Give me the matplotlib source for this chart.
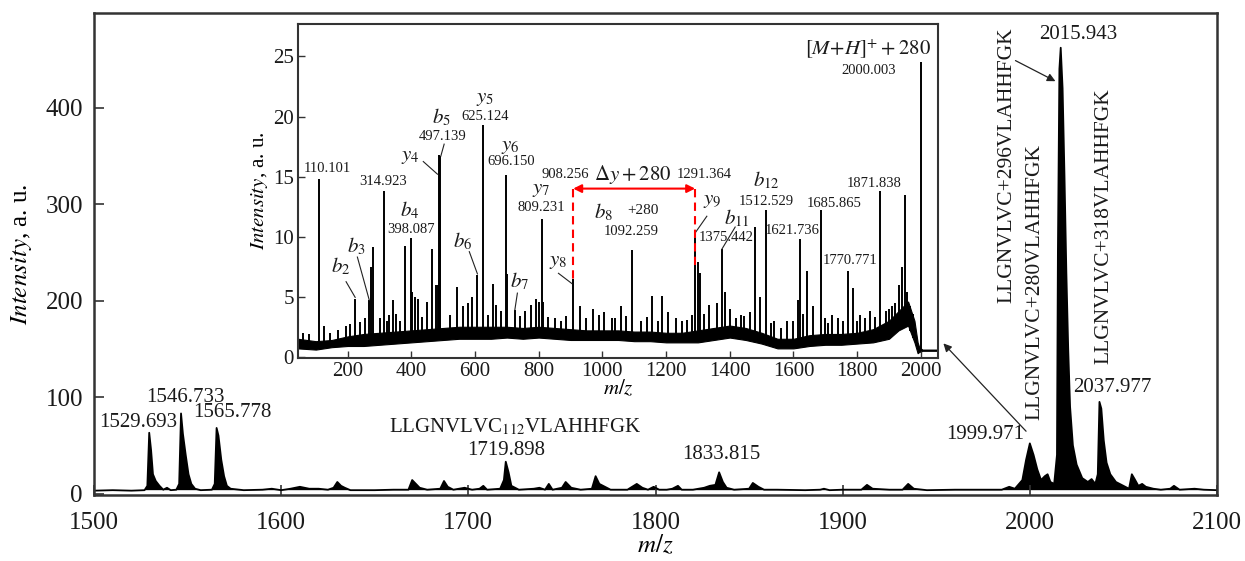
import matplotlib
matplotlib.use('Agg')
import matplotlib.pyplot as plt
import numpy as np

plt.rcParams['font.family'] = ['Liberation Serif', 'DejaVu Serif']
plt.rcParams['mathtext.fontset'] = 'stix'
plt.rcParams['text.color'] = '#1a1a1a'

# main MS spectrum (m/z, intensity)
main_mz = [1500, 1510, 1520, 1527, 1528.5, 1529.5, 1530.5, 1531.5, 1533, 1535,
           1537, 1539, 1541, 1544, 1545.5, 1546.5, 1547.5, 1549, 1550.5, 1552,
           1554, 1557, 1563, 1564.5, 1565.5, 1566.5, 1568, 1569.5, 1571, 1573,
           1580, 1590, 1595, 1600, 1605, 1610, 1615, 1620, 1625, 1628,
           1630, 1632, 1634, 1637, 1650, 1660, 1668, 1670, 1672, 1674,
           1678, 1685, 1687, 1689, 1692, 1698, 1702, 1706, 1708, 1710,
           1717, 1719, 1720, 1721.5, 1723, 1727, 1735, 1738, 1741, 1743,
           1745, 1750, 1752, 1755, 1760, 1766, 1768, 1770, 1773, 1776,
           1785, 1790, 1793, 1796, 1799, 1802, 1806, 1809, 1812, 1814,
           1820, 1826, 1829, 1832, 1834, 1836, 1838, 1842, 1850, 1852,
           1855, 1858, 1865, 1880, 1888, 1890, 1893, 1900, 1910, 1913,
           1916, 1925, 1932, 1935, 1938, 1945, 1960, 1975, 1985, 1989,
           1992, 1996, 1998, 2000, 2002, 2004, 2006, 2008, 2009.5, 2011,
           2013, 2014.5, 2015, 2015.8, 2016.5, 2017.5, 2018.5, 2019.5, 2020.5, 2021.5,
           2023, 2025, 2028, 2031, 2033, 2035, 2036.3, 2037.2, 2038.2, 2039.5,
           2041, 2043, 2046, 2050, 2053, 2054.5, 2056, 2058, 2060, 2062,
           2066, 2070, 2075, 2077, 2080, 2088, 2093, 2100]
main_int = [3, 3.5, 3, 3.5, 8, 63, 45, 20, 13, 8,
            4, 6, 3.5, 4, 10, 83, 62, 40, 20, 10,
            5, 3.5, 4, 10, 68, 60, 35, 18, 8, 5,
            3.5, 4, 5, 3.5, 5, 7, 5, 5, 4, 6,
            12, 8, 6, 3.5, 3.5, 4, 4, 14, 10, 6,
            4, 5, 13, 7, 4, 6, 4, 5, 8, 4,
            5, 14, 33, 22, 8, 4, 5, 6, 4, 10,
            4, 6, 12, 6, 4, 5, 18, 10, 7, 4,
            4, 10, 6, 4, 7, 4, 4, 5, 8, 4,
            4, 6, 8, 9, 22, 12, 6, 4, 5, 11,
            7, 4, 4, 3.5, 4, 5, 3.5, 4, 4, 9,
            5, 4, 4, 10, 5, 3.5, 4, 4, 4, 7,
            5, 14, 35, 52, 40, 25, 14, 18, 20, 12,
            10, 40, 250, 440, 462, 420, 330, 230, 150, 90,
            50, 30, 16, 12, 15, 10, 20, 95, 88, 55,
            32, 20, 12, 8, 5, 20, 15, 8, 10, 7,
            5, 4, 5, 8, 4, 5, 4, 3.5]

# inset MS/MS spectrum: baseline noise envelope
band_mz = [44, 100, 150, 200, 250, 300, 350, 400, 450, 500,
           550, 600, 650, 700, 750, 800, 850, 900, 950, 1000,
           1050, 1100, 1150, 1200, 1250, 1300, 1350, 1400, 1450, 1500,
           1550, 1600, 1650, 1700, 1750, 1800, 1850, 1900, 1930, 1960,
           1980, 1990, 1995, 2005, 2010, 2054]
band_lo = [0.7, 0.6, 0.8, 0.9, 0.9, 1.0, 1.1, 1.2, 1.3, 1.4,
           1.5, 1.5, 1.5, 1.6, 1.5, 1.6, 1.5, 1.4, 1.4, 1.4,
           1.4, 1.3, 1.3, 1.2, 1.2, 1.2, 1.4, 1.6, 1.4, 1.1,
           0.7, 0.7, 0.9, 1.0, 1.0, 1.1, 1.2, 1.5, 2.2, 2.6,
           1.2, 0.3, 0.4, 0.5, 0.5, 0.5]
band_hi = [1.5, 1.3, 1.4, 1.7, 1.9, 2.0, 2.1, 2.2, 2.3, 2.4,
           2.5, 2.5, 2.5, 2.5, 2.4, 2.5, 2.4, 2.3, 2.2, 2.2,
           2.2, 2.1, 2.1, 2.0, 2.0, 2.2, 2.4, 2.6, 2.4, 2.0,
           1.5, 1.5, 1.8, 1.9, 1.9, 2.0, 2.3, 3.0, 3.8, 4.6,
           3.0, 1.2, 0.8, 0.6, 0.6, 0.6]

# inset fragment peaks and noise spikes
frag_mz = [110.101, 127, 145, 195, 207, 222, 238, 254, 267, 272,
           280.5, 314.923, 322, 343, 353, 380, 398.087, 403, 413, 421,
           449, 466, 476, 484, 486, 489, 491, 543, 562, 577,
           590, 606, 625.124, 657, 666, 696.150, 700, 725, 756, 777,
           793, 800, 809.231, 814, 850, 870, 908.256, 931, 970, 1006,
           1030, 1058, 1092.259, 1120, 1157, 1187, 1207, 1250, 1280, 1291.364,
           1300, 1307, 1334, 1360, 1375.442, 1386, 1420, 1445, 1464, 1480,
           1495, 1512.529, 1540, 1580, 1614, 1621.736, 1643, 1662, 1685.865, 1700,
           1720, 1740, 1770.771, 1788, 1810, 1840, 1871.838, 1900, 1920, 1933,
           1941, 1949, 1958, 1966, 1975, 2000.003,
           60, 80, 170, 300, 330, 365, 435, 520, 640, 680,
           740, 830, 885, 950, 990, 1040, 1075, 1140, 1175, 1230,
           1265, 1320, 1400, 1435, 1530, 1560, 1600, 1630, 1710, 1755,
           1800, 1825, 1855, 1890, 1910]
frag_int = [14.8, 2.6, 2.0, 2.6, 2.7, 4.8, 2.9, 3.2, 4.7, 7.5,
            9.1, 13.8, 3.0, 4.7, 3.6, 9.2, 9.9, 5.4, 5.0, 4.8,
            4.6, 9.0, 6.0, 6.0, 16.8, 12.0, 16.7, 5.8, 4.2, 4.5,
            5.0, 6.8, 19.3, 6.1, 4.3, 15.1, 6.9, 3.9, 3.8, 4.3,
            4.8, 4.6, 11.5, 4.6, 3.2, 3.0, 6.5, 4.2, 4.0, 3.7,
            3.2, 4.2, 8.9, 3.0, 5.1, 5.1, 3.7, 3.0, 3.5, 10.3,
            7.9, 7.0, 4.3, 4.5, 9.0, 5.4, 3.2, 3.4, 3.7, 10.8,
            5.0, 12.2, 3.0, 3.0, 4.7, 9.8, 7.1, 4.2, 12.2, 3.2,
            3.5, 3.2, 7.1, 5.7, 3.5, 3.8, 13.8, 4.0, 4.5, 6.0,
            7.5, 13.5, 5.4, 4.2, 3.6, 24.5,
            2.0, 1.9, 2.2, 3.2, 3.5, 3.0, 3.3, 3.5, 3.5, 3.8,
            3.4, 3.3, 3.4, 3.2, 3.5, 3.2, 3.4, 3.3, 3.0, 3.2,
            3.1, 3.6, 4.0, 3.5, 2.8, 2.4, 3.0, 3.6, 2.8, 3.0,
            3.0, 3.2, 3.3, 3.8, 4.2]

main_ticks = [1500, 1600, 1700, 1800, 1900, 2000, 2100]
main_yticks = [0, 100, 200, 300, 400]
inset_xticks = [200, 400, 600, 800, 1000, 1200, 1400, 1600, 1800, 2000]
inset_yticks = [0, 5, 10, 15, 20, 25]

W, H = 1245, 561
fig = plt.figure(figsize=(W / 100, H / 100), dpi=100)
ax = fig.add_axes([94 / W, 1 - 495 / H, (1217 - 94) / W, (495 - 13) / H])

mz = np.array(main_mz)
it = np.array(main_int)
ax.fill_between(mz, 3.5, it, where=it >= 3.5, interpolate=True, color='black', lw=0)
ax.plot(mz, it, color='black', lw=1.3)
ax.set_xlim(1500, 2100)
ax.set_ylim(-1.5, 498)
ax.set_xticks(main_ticks)
ax.set_yticks(main_yticks)
ax.tick_params(direction='in', labelsize=18, length=7, width=1.2, colors='#333333',
               labelcolor='#1a1a1a', top=False, right=False)
ax.tick_params(axis='x', pad=12)
ax.tick_params(axis='y', pad=8)
for s in ax.spines.values():
    s.set_linewidth(1.8)
    s.set_color('#333333')
ax.set_xlabel('$m/z$', fontsize=18, labelpad=0)
ax.set_ylabel('$\\mathit{Intensity}$, a. u.', fontsize=18, labelpad=8)

# main peak labels
for txt, x, y in [('1529.693', 1523.8, 74), ('1546.733', 1548.7, 100),
                  ('1565.778', 1574, 84), ('1719.898', 1720, 45),
                  ('1833.815', 1835, 40), ('1999.971', 1976, 61),
                  ('2015.943', 2026, 476), ('2037.977', 2044, 110)]:
    ax.text(x, y, txt, fontsize=15, ha='center', va='center')
ax.text(1725, 69, 'LLGNVLVC$_{112}$VLAHHFGK', fontsize=15, ha='center', va='center')
ax.text(1987.5, 340, 'LLGNVLVC+296VLAHHFGK', fontsize=15.5, rotation=90, ha='center', va='center')
ax.text(2002.7, 219, 'LLGNVLVC+280VLAHHFGK', fontsize=15.5, rotation=90, ha='center', va='center')
ax.text(2039.5, 277, 'LLGNVLVC+318VLAHHFGK', fontsize=15.5, rotation=90, ha='center', va='center')
ax.annotate('', xy=(2015, 426), xytext=(1991, 450),
            arrowprops=dict(arrowstyle='-|>', lw=0.9, color='#222222', mutation_scale=12))
ax.annotate('', xy=(1952.8, 157.7), xytext=(1999, 62.5),
            arrowprops=dict(arrowstyle='-|>', lw=0.9, color='#222222', mutation_scale=12))

# inset
ins = fig.add_axes([298 / W, 1 - 358 / H, (938 - 298) / W, (358 - 24) / H])
ins.fill_between(band_mz, band_lo, band_hi, color='black', lw=0.8)
base = np.interp(frag_mz, band_mz, band_lo)
ins.vlines(frag_mz, base, frag_int, color='black', lw=1.4)
ins.set_xlim(44, 2054)
ins.set_ylim(-0.1, 27.7)
ins.set_xticks(inset_xticks)
ins.set_yticks(inset_yticks)
ins.tick_params(direction='in', labelsize=15, length=5, width=1.0, colors='#333333',
                labelcolor='#1a1a1a', top=False, right=False, pad=3)
for s in ins.spines.values():
    s.set_linewidth(1.5)
    s.set_color('#333333')
ins.set_xlabel('$m/z$', fontsize=15, labelpad=-2)
ins.set_ylabel('$\\mathit{Intensity}$, a. u.', fontsize=15, labelpad=2)

for txt, x, y in [('110.101', 137, 15.7), ('314.923', 311, 14.6), ('398.087', 400, 10.6),
                  ('497.139', 498, 18.3), ('625.124', 631.6, 20.0), ('696.150', 712.6, 16.25),
                  ('809.231', 807.5, 12.4), ('908.256', 883, 15.2), ('1291.364', 1319, 15.2),
                  ('1092.259', 1089.5, 10.4), ('1375.442', 1387.5, 9.9), ('1512.529', 1516, 12.9),
                  ('1621.736', 1597, 10.5), ('1685.865', 1728, 12.8), ('1770.771', 1778, 8.0),
                  ('1871.838', 1853, 14.4), ('2000.003', 1837, 23.8)]:
    ins.text(x, y, txt, fontsize=10.5, ha='center', va='center')
for txt, x, y in [('$b_2$', 178, 7.5), ('$b_3$', 228.6, 9.2), ('$b_4$', 396, 12.2),
                  ('$y_4$', 398, 16.7), ('$b_5$', 495.5, 19.9), ('$y_5$', 631.6, 21.5),
                  ('$y_6$', 710, 17.5), ('$b_6$', 561.5, 9.6), ('$y_7$', 807.5, 13.9),
                  ('$b_7$', 739, 6.25), ('$y_8$', 862, 7.9), ('$y_9$', 1343.5, 13.0),
                  ('$b_{11}$', 1422, 11.5), ('$b_{12}$', 1516, 14.7), ('$b_8$', 1002, 12.0)]:
    ins.text(x, y, txt, fontsize=15, ha='center', va='center')
ins.text(1126, 12.2, '+280', fontsize=11, ha='center', va='center')
ins.text(1095, 15.2, '$\\Delta y + 280$', fontsize=15, ha='center', va='center')
ins.text(1833, 25.6, '$[M\\!+\\!H]^{+} + 280$', fontsize=15, ha='center', va='center')

for (x0, y0), (x1, y1) in [((437.5, 16.25), (482, 15.2)), ((503, 17.7), (492.5, 16.7)),
                           ((582, 8.75), (607.5, 6.9)), ((733, 5.3), (725, 3.9)),
                           ((862, 6.95), (904, 6.1)), ((195, 6.25), (223.5, 4.95)),
                           ((230.5, 8.3), (268, 4.7)), ((1328, 11.7), (1291, 10.3)),
                           ((1417, 10.8), (1375, 8.95))]:
    ins.plot([x0, x1], [y0, y1], color='#222222', lw=0.8)

# red delta arrow between y8 and y9
ins.plot([908.256, 908.256], [14.0, 6.4], color='red', lw=1.5, ls=(0, (4, 2.5)))
ins.plot([1291.364, 1291.364], [14.0, 7.5], color='red', lw=1.5, ls=(0, (4, 2.5)))
ins.annotate('', xy=(908.256, 14.0), xytext=(1291.364, 14.0),
             arrowprops=dict(arrowstyle='<|-|>', lw=1.5, color='red', mutation_scale=12,
                             shrinkA=0, shrinkB=0))

fig.savefig('out.png', dpi=100)
